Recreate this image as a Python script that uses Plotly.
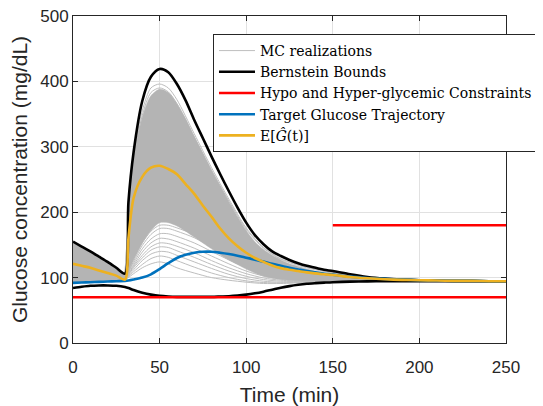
import plotly.graph_objects as go

# time grid (min) for the bounds / target / mean and the gray band edges
t = [0, 5, 10, 15, 20, 25, 30, 32, 35, 40, 45, 50, 55, 60, 65, 70, 75, 80, 85, 90,
     95, 100, 105, 110, 115, 120, 125, 130, 135, 140, 145, 150, 160, 170, 180, 190,
     200, 210, 220, 230, 240, 250]

upper_bound = [155, 147.5, 140, 132, 124, 115, 106, 215, 292, 370, 407, 419, 414, 396, 371, 341,
               313, 285, 258, 232, 207, 184, 165, 151, 140, 133, 127, 122, 118, 115, 112, 110,
               105, 101, 98.5, 97, 96, 95.5, 95, 95, 94.5, 94.5]
lower_bound = [84, 86, 87.5, 88, 88, 87.5, 85.5, 84, 81, 77, 74, 72, 71, 70.5, 70.5, 70.5,
               70.5, 70.5, 71, 71.5, 72.5, 74, 76, 78.5, 81.5, 84.5, 87, 89, 90.5, 91.5, 92.3, 93,
               93.8, 94.2, 94.4, 94.5, 94.5, 94.5, 94.5, 94.5, 94.5, 94.5]
target = [92, 92.5, 93, 93.5, 94, 94.5, 95, 95.5, 97, 100, 105, 113, 122, 130, 135, 138,
          139.5, 139.5, 138, 136, 133.5, 130.5, 127.5, 124.5, 121, 118, 115, 112.5, 110, 108, 106, 104.5,
          101.5, 99.5, 98, 97, 96, 95.5, 95, 95, 94.5, 94.5]
mean_G = [121, 118, 115, 111, 107, 103, 97, 160, 222, 254, 268, 271, 266, 258, 243, 228,
          210, 193, 175, 160, 148, 138, 130, 124, 118.5, 114.5, 112, 110, 108, 106.5, 105, 104,
          101, 99, 97.5, 96.5, 96, 95.5, 95, 95, 94.5, 94.5]
# dense part of the Monte Carlo cloud
mc_hi = [154, 146.5, 139, 131, 123, 114, 105, 205, 280, 345, 378, 388, 383, 366, 343, 316,
         290, 264, 240, 216, 193, 172, 155, 143, 134, 127, 121, 117, 113, 110, 107.5, 106,
         102, 99, 97.5, 96.5, 95.5, 95, 94.5, 94.5, 94.5, 94.5]
mc_lo = [93, 93, 93.5, 94, 94.5, 95, 96, 110, 128, 153, 172, 184, 184, 179, 171, 162,
         153, 144, 135, 127, 120, 113, 107, 102, 99, 97, 96, 95.5, 95, 95, 95, 95,
         95, 95, 94.5, 94.5, 94.5, 94.5, 94.5, 94.5, 94.5, 94.5]

# individual realizations outside the dense part
t_mc = [30, 35, 40, 45, 50, 55, 60, 70, 80, 90, 100, 110, 120, 135, 150, 175, 200, 250]
mc_lines = [
    [106, 285, 355, 390, 396, 390, 372, 320, 268, 220, 176, 146, 129, 116, 108, 99, 96, 94.5],
    [105, 280, 348, 383, 390, 384, 366, 315, 264, 217, 174, 145, 128, 115, 107, 99, 96, 94.5],
    [99, 128, 153, 171, 180, 180, 176, 166, 152, 138, 124, 113, 105, 98, 95.5, 94.5, 94.5, 94.5],
    [98, 125, 149, 166, 175, 175, 171, 161, 147, 133, 120, 110, 103, 97, 95, 94.5, 94.5, 94.5],
    [98, 122, 144, 159, 167, 167, 163, 153, 140, 127, 115, 106, 100, 96, 95, 94.5, 94.5, 94.5],
    [97, 119, 139, 153, 160, 159, 155, 145, 133, 121, 110, 102.5, 98, 95, 94.5, 94.5, 94.5, 94.5],
    [97, 117, 134, 147, 153, 152, 148, 138, 126, 115, 106, 99.5, 96, 94.5, 94.5, 94.5, 94.5, 94.5],
    [97, 115, 130, 142, 147, 146, 141, 131, 120, 110, 102, 97, 94.5, 94, 94.5, 94.5, 94.5, 94.5],
    [97, 112, 126, 136, 140, 139, 134, 124, 114, 105, 98.5, 94.5, 93, 93.5, 94, 94.5, 94.5, 94.5],
    [96, 109, 120, 129, 133, 131, 126, 116, 107, 100, 95, 92.5, 92, 93, 94, 94.5, 94.5, 94.5],
    [96, 106, 115, 121, 124, 121, 115, 107, 100, 96, 93, 91, 91, 92.5, 93.5, 94.5, 94.5, 94.5],
]

red_x = [0, 250, None, 150, 250]
red_y = [70, 70, None, 180, 180]

gray_line = "rgb(190,190,190)"
gray_fill = "rgb(180,180,180)"
SM = 0.8

fig = go.Figure()

for i, ys in enumerate(mc_lines):
    fig.add_trace(go.Scatter(x=t_mc, y=ys, mode="lines",
                             line=dict(color=gray_line, width=1, shape="spline", smoothing=SM),
                             name="MC realizations", legendgroup="mc", showlegend=(i == 0)))
fig.add_trace(go.Scatter(x=t, y=mc_lo, mode="lines",
                         line=dict(color=gray_fill, width=0.5, shape="spline", smoothing=SM),
                         showlegend=False, legendgroup="mc"))
fig.add_trace(go.Scatter(x=t, y=mc_hi, mode="lines",
                         line=dict(color=gray_fill, width=0.5, shape="spline", smoothing=SM),
                         fill="tonexty", fillcolor=gray_fill, showlegend=False, legendgroup="mc"))

def curve(y, color, name, show=True, group=None):
    return go.Scatter(x=t, y=y, mode="lines", name=name, showlegend=show, legendgroup=group,
                      line=dict(color=color, width=2.6, shape="spline", smoothing=SM))

fig.add_trace(curve(upper_bound, "black", "Bernstein Bounds", group="bb"))
fig.add_trace(curve(lower_bound, "black", "Bernstein Bounds", show=False, group="bb"))
fig.add_trace(go.Scatter(x=red_x, y=red_y, mode="lines", line=dict(color="rgb(255,0,0)", width=2.6),
                         name="Hypo and Hyper-glycemic Constraints"))
fig.add_trace(curve(target, "rgb(0,114,189)", "Target Glucose Trajectory"))
fig.add_trace(curve(mean_G, "rgb(237,177,32)", "E[<i>Ĝ</i>(t)]"))

axis_color = "rgb(38,38,38)"
sans = "Liberation Sans, Arial"
common = dict(showline=True, linecolor=axis_color, linewidth=1, mirror="ticks",
              ticks="inside", ticklen=5, tickcolor=axis_color,
              showgrid=True, gridcolor="rgb(225,225,225)", gridwidth=1, zeroline=False,
              ticklabeloverflow="allow",
              tickfont=dict(family=sans, size=17, color=axis_color))

fig.update_xaxes(range=[0, 250], tickvals=[0, 50, 100, 150, 200, 250], ticklabelstandoff=9,
                 title=dict(text="Time (min)", font=dict(family=sans, size=21, color=axis_color),
                            standoff=13), **common)
fig.update_yaxes(range=[0, 500], tickvals=[0, 100, 200, 300, 400, 500],
                 title=dict(text="Glucose concentration (mg/dL)",
                            font=dict(family=sans, size=21, color=axis_color), standoff=8),
                 **common)

# the page body adds an 8px margin, so the figure is 8px smaller than the window
fig.update_layout(
    width=535, height=398,
    margin=dict(l=65, r=37, t=8, b=63, autoexpand=False),
    plot_bgcolor="white", paper_bgcolor="white",
    legend=dict(x=0.3233, y=0.945, xanchor="left", yanchor="top",
                bgcolor="white", bordercolor=axis_color, borderwidth=1,
                font=dict(family="DejaVu Serif", size=14, color="black"),
                itemwidth=36, tracegroupgap=0),
)

fig.write_html("out.html")
